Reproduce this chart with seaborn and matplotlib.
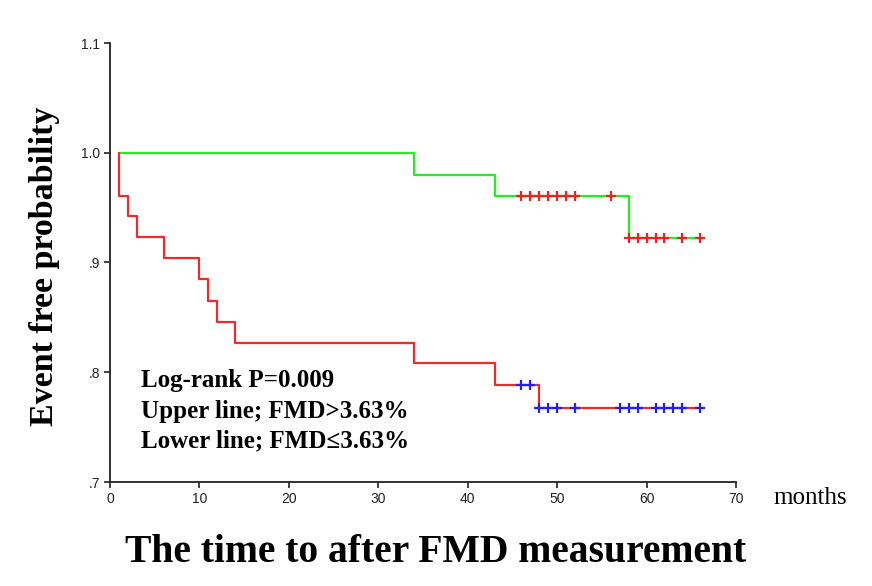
import numpy as np
import pandas as pd
import matplotlib
matplotlib.use("Agg")
import matplotlib.pyplot as plt
import seaborn as sns

# Kaplan-Meier step data (months, event free probability)
upper_time = [1, 34, 43, 58, 66]
upper_surv = [1.0, 0.980, 0.961, 0.922, 0.922]
lower_time = [1, 1, 2, 3, 6, 10, 11, 12, 14, 34, 43, 48, 66]
lower_surv = [1.0, 0.961, 0.942, 0.923, 0.904, 0.885, 0.865, 0.846, 0.827,
              0.808, 0.788, 0.767, 0.767]

# censored observations
upper_cens_time = [46, 47, 48, 49, 50, 51, 52, 56, 58, 59, 60, 61, 62, 64, 66]
upper_cens_surv = [0.961] * 8 + [0.922] * 7
lower_cens_time = [46, 47, 48, 49, 50, 52, 57, 58, 59, 61, 62, 63, 64, 66]
lower_cens_surv = [0.788] * 2 + [0.767] * 12

x_ticks = [0, 10, 20, 30, 40, 50, 60, 70]
y_ticks = [0.7, 0.8, 0.9, 1.0, 1.1]
y_tick_labels = [".7", ".8", ".9", "1.0", "1.1"]
notes = ["Log-rank P=0.009", "Upper line; FMD>3.63%", "Lower line; FMD\u22643.63%"]

sns.set_style("white")
plt.rcParams["font.family"] = ["Liberation Sans", "DejaVu Sans"]
plt.rcParams["text.color"] = "black"

upper_df = pd.DataFrame({"time": upper_time, "surv": upper_surv})
lower_df = pd.DataFrame({"time": lower_time, "surv": lower_surv})
upper_cens = pd.DataFrame({"time": upper_cens_time, "surv": upper_cens_surv})
lower_cens = pd.DataFrame({"time": lower_cens_time, "surv": lower_cens_surv})

fig = plt.figure(figsize=(8.72, 5.86), dpi=100)
ax = fig.add_axes([110 / 872, 1 - 482 / 586, (736 - 110) / 872, (482 - 43) / 586])

sns.lineplot(data=upper_df, x="time", y="surv", drawstyle="steps-post",
             estimator=None, sort=False, color="#22ee22", linewidth=1.6, ax=ax)
sns.lineplot(data=lower_df, x="time", y="surv", drawstyle="steps-post",
             estimator=None, sort=False, color="#ee2a2a", linewidth=1.6, ax=ax)
sns.scatterplot(data=upper_cens, x="time", y="surv", marker="+", s=60,
                color="#ee2020", linewidth=1.6, ax=ax, zorder=3)
sns.scatterplot(data=lower_cens, x="time", y="surv", marker="+", s=60,
                color="#2222ee", linewidth=1.6, ax=ax, zorder=3)

ax.set_xlim(0, 70)
ax.set_ylim(0.7, 1.1)
ax.set_xticks(x_ticks)
ax.set_yticks(y_ticks)
ax.set_yticklabels(y_tick_labels)
ax.set_xlabel("")
ax.set_ylabel("")
ax.tick_params(axis="both", direction="out", length=4, width=1.2,
               labelsize=10, colors="#222222", pad=3, bottom=True, left=True)
for side in ["top", "right"]:
    ax.spines[side].set_visible(False)
for side in ["left", "bottom"]:
    ax.spines[side].set_color("#222222")
    ax.spines[side].set_linewidth(1.3)

serif = ["Liberation Serif", "DejaVu Serif"]
note_y = [0.7927, 0.7645, 0.7373]
for txt, yy in zip(notes, note_y):
    ax.text(3.5, yy, txt, fontsize=18, fontweight="bold", family=serif,
            va="center", ha="left", color="black")

fig.text(45 / 872, 1 - 266 / 586, "Event free probability", rotation=90,
         fontsize=24.5, fontweight="bold", family=serif, va="center",
         ha="center", color="black")
fig.text(773 / 872, 1 - 498 / 586, "months", fontsize=18, family=serif,
         va="center", ha="left", color="black")
fig.text(436 / 872, 1 - 553 / 586, "The time to after FMD measurement",
         fontsize=28.5, fontweight="bold", family=serif, va="center",
         ha="center", color="black")

fig.savefig("out.png", dpi=100, facecolor="white")
